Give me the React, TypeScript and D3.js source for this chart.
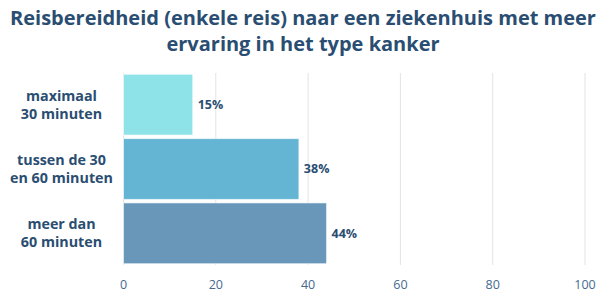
import React, { useEffect, useRef } from "react";
import * as d3 from "d3";

const categories = [["maximaal", "30 minuten"], ["tussen de 30", "en 60 minuten"], ["meer dan", "60 minuten"]];
const values = [15, 38, 44];
const barColors = ["#8ee3e8", "#63b5d3", "#6897b9"];
const ticks = [0, 20, 40, 60, 80, 100];
const titleLines = ["Reisbereidheid (enkele reis) naar een ziekenhuis met meer", "ervaring in het type kanker"];

const App = () => {
  const ref = useRef<SVGSVGElement>(null);

  useEffect(() => {
    const svg = d3.select(ref.current);
    svg.selectAll("*").remove();

    const width = 606;
    const height = 296;
    const font = "'Open Sans', sans-serif";
    const dark = "#2a4d72";

    const x = d3.scaleLinear().domain([0, 100]).range([123.5, 585]);
    const y = d3
      .scaleBand<number>()
      .domain(d3.range(values.length))
      .range([73, 265])
      .paddingInner(0.055)
      .paddingOuter(0.02);

    // titel
    svg
      .append("g")
      .selectAll("text")
      .data(titleLines)
      .enter()
      .append("text")
      .attr("x", width / 2)
      .attr("y", (d, i) => 25 + i * 26)
      .attr("text-anchor", "middle")
      .attr("font-family", font)
      .attr("font-weight", 700)
      .attr("font-size", 20)
      .attr("fill", dark)
      .text((d) => d);

    // rasterlijnen
    svg
      .append("g")
      .selectAll("line")
      .data(ticks)
      .enter()
      .append("line")
      .attr("x1", (d) => x(d))
      .attr("x2", (d) => x(d))
      .attr("y1", 73)
      .attr("y2", 265)
      .attr("stroke", "#e3e3e3")
      .attr("stroke-width", 1);

    // staven
    svg
      .append("g")
      .selectAll("rect")
      .data(values)
      .enter()
      .append("rect")
      .attr("x", x(0))
      .attr("y", (d, i) => y(i)!)
      .attr("width", (d) => x(d) - x(0))
      .attr("height", y.bandwidth())
      .attr("fill", (d, i) => barColors[i])
      .attr("stroke", "#ffffff")
      .attr("stroke-opacity", 0.6)
      .attr("stroke-width", 1);

    // waardelabels
    svg
      .append("g")
      .selectAll("text")
      .data(values)
      .enter()
      .append("text")
      .attr("x", (d) => x(d) + 5)
      .attr("y", (d, i) => y(i)! + y.bandwidth() / 2)
      .attr("dy", "0.35em")
      .attr("font-family", font)
      .attr("font-weight", 700)
      .attr("font-size", 12.5)
      .attr("fill", dark)
      .text((d) => `${d}%`);

    // categorielabels
    const cat = svg
      .append("g")
      .selectAll("text")
      .data(categories)
      .enter()
      .append("text")
      .attr("text-anchor", "middle")
      .attr("font-family", font)
      .attr("font-weight", 700)
      .attr("font-size", 14.3)
      .attr("fill", dark);
    cat
      .selectAll("tspan")
      .data((d, i) => d.map((t, j) => ({ t, j, i })))
      .enter()
      .append("tspan")
      .attr("x", 61.5)
      .attr("y", (d) => y(d.i)! + y.bandwidth() / 2 + (d.j === 0 ? -9 : 9))
      .attr("dy", "0.35em")
      .text((d) => d.t);

    // x-as
    svg
      .append("g")
      .selectAll("text")
      .data(ticks)
      .enter()
      .append("text")
      .attr("x", (d) => x(d))
      .attr("y", 285)
      .attr("dy", "0.35em")
      .attr("text-anchor", "middle")
      .attr("font-family", font)
      .attr("font-size", 12.5)
      .attr("fill", "#466a8f")
      .text((d) => d);

    svg.attr("width", width).attr("height", height);
  }, []);

  return <svg ref={ref} width={606} height={296} style={{ position: "absolute", left: 0, top: 0 }} />;
};

export default App;
